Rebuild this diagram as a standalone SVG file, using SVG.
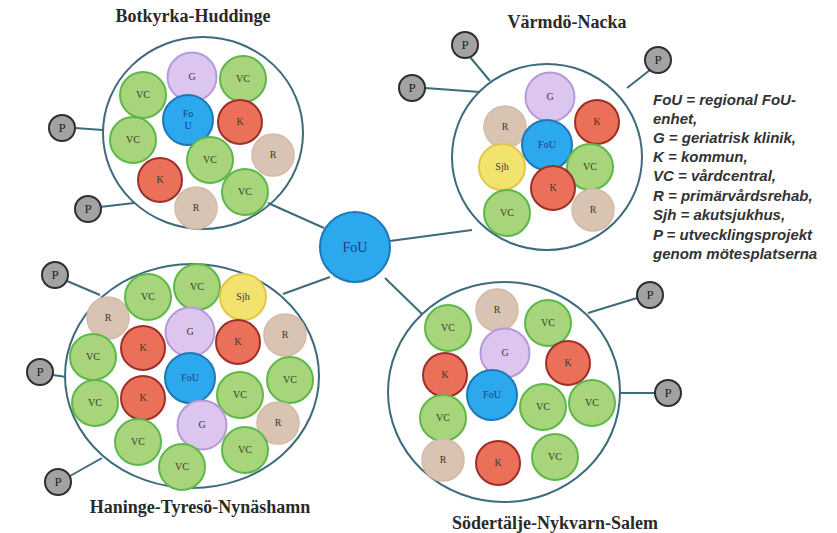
<svg xmlns="http://www.w3.org/2000/svg" width="837" height="533" viewBox="0 0 837 533">
<style>
.bg{fill:#ffffff}
.big{fill:none;stroke:#3d6b7c;stroke-width:2}
.ln{stroke:#3d6b7c;stroke-width:2;fill:none}
.vc{fill:#a8d47c;stroke:#5db84a;stroke-width:2}
.g{fill:#dcc6f0;stroke:#b69bd6;stroke-width:2}
.k{fill:#ea705a;stroke:#9e2f28;stroke-width:2}
.fou{fill:#2ba8ee;stroke:#1f78b6;stroke-width:2}
.r{fill:#d9c3b3;stroke:#d2bba9;stroke-width:1.5}
.sjh{fill:#f1e36e;stroke:#e3c64a;stroke-width:2}
.p{fill:#a2a2a2;stroke:#2e2e2e;stroke-width:2}
.t{font-family:"Liberation Serif","Times New Roman",serif;font-size:10px;fill:#3a3a2a;text-anchor:middle}
.tp{font-family:"Liberation Serif","Times New Roman",serif;font-size:13px;fill:#222;text-anchor:middle}
.tf{font-family:"Liberation Serif","Times New Roman",serif;font-size:10px;fill:#1d3f7a;text-anchor:middle}
.title{font-family:"Liberation Serif","Times New Roman",serif;font-size:18px;font-weight:bold;fill:#2a2a2a;text-anchor:middle}
.leg{font-family:"Liberation Sans",Arial,sans-serif;font-size:15px;font-style:italic;font-weight:bold;fill:#333}
</style>
<rect class="bg" x="0" y="0" width="837" height="533"/>

<g id="connectors">
<line class="ln" x1="268" y1="203" x2="324" y2="228"/>
<line class="ln" x1="390" y1="241" x2="472" y2="230"/>
<line class="ln" x1="283" y1="294" x2="330" y2="277"/>
<line class="ln" x1="385" y1="278" x2="422" y2="314"/>
<line class="ln" x1="75" y1="128" x2="103" y2="130"/>
<line class="ln" x1="100" y1="207" x2="134" y2="203"/>
<line class="ln" x1="470" y1="57" x2="490" y2="81"/>
<line class="ln" x1="425" y1="88" x2="480" y2="92"/>
<line class="ln" x1="650" y1="70" x2="627" y2="88"/>
<line class="ln" x1="67" y1="281" x2="100" y2="295"/>
<line class="ln" x1="53" y1="375" x2="66" y2="377"/>
<line class="ln" x1="70" y1="476" x2="102" y2="458"/>
<line class="ln" x1="588" y1="313" x2="637" y2="298"/>
<line class="ln" x1="620" y1="393" x2="655" y2="393"/>
</g>

<g id="fou-center">
<circle class="fou" cx="355" cy="247" r="35"/>
<text class="tf" x="355" y="252" style="font-size:14px">FoU</text>
</g>

<!-- Botkyrka-Huddinge -->
<g id="cluster-botkyrka">
<text class="title" x="193" y="22">Botkyrka-Huddinge</text>
<ellipse class="big" cx="203" cy="133" rx="100" ry="96"/>
<g id="b-g"><circle class="g" cx="192" cy="77" r="24.5"/><text class="t" x="192" y="80">G</text></g>
<g id="b-vc1"><circle class="vc" cx="243" cy="79" r="23"/><text class="t" x="243" y="82">VC</text></g>
<g id="b-vc2"><circle class="vc" cx="143" cy="95" r="23"/><text class="t" x="143" y="98">VC</text></g>
<g id="b-fou"><circle class="fou" cx="188" cy="120" r="25"/><text class="tf" x="188" y="117">Fo</text><text class="tf" x="188" y="129">U</text></g>
<g id="b-k1"><circle class="k" cx="240" cy="122" r="22"/><text class="t" x="240" y="125">K</text></g>
<g id="b-vc3"><circle class="vc" cx="133" cy="140" r="23"/><text class="t" x="133" y="143">VC</text></g>
<g id="b-r1"><circle class="r" cx="273" cy="155" r="21"/><text class="t" x="273" y="158">R</text></g>
<g id="b-vc4"><circle class="vc" cx="210" cy="160" r="23"/><text class="t" x="210" y="163">VC</text></g>
<g id="b-k2"><circle class="k" cx="160" cy="180" r="22"/><text class="t" x="160" y="183">K</text></g>
<g id="b-vc5"><circle class="vc" cx="245" cy="192" r="23"/><text class="t" x="245" y="195">VC</text></g>
<g id="b-r2"><circle class="r" cx="196" cy="208" r="21"/><text class="t" x="196" y="211">R</text></g>
<g id="b-p1"><circle class="p" cx="62" cy="128" r="13"/><text class="tp" x="62" y="132">P</text></g>
<g id="b-p2"><circle class="p" cx="88" cy="209" r="13"/><text class="tp" x="88" y="213">P</text></g>
</g>

<!-- Värmdö-Nacka -->
<g id="cluster-varmdo">
<text class="title" x="567" y="28">Värmdö-Nacka</text>
<ellipse class="big" cx="547" cy="157" rx="95" ry="93"/>
<g id="v-g"><circle class="g" cx="550" cy="97" r="24.5"/><text class="t" x="550" y="100">G</text></g>
<g id="v-r1"><circle class="r" cx="505" cy="127" r="21"/><text class="t" x="505" y="130">R</text></g>
<g id="v-k1"><circle class="k" cx="597" cy="122" r="22"/><text class="t" x="597" y="125">K</text></g>
<g id="v-fou"><circle class="fou" cx="547" cy="145" r="25"/><text class="tf" x="547" y="148">FoU</text></g>
<g id="v-sjh"><circle class="sjh" cx="502" cy="167" r="23"/><text class="t" x="502" y="170">Sjh</text></g>
<g id="v-vc1"><circle class="vc" cx="590" cy="167" r="23"/><text class="t" x="590" y="170">VC</text></g>
<g id="v-k2"><circle class="k" cx="553" cy="188" r="22"/><text class="t" x="553" y="191">K</text></g>
<g id="v-vc2"><circle class="vc" cx="507" cy="213" r="23"/><text class="t" x="507" y="216">VC</text></g>
<g id="v-r2"><circle class="r" cx="593" cy="210" r="21"/><text class="t" x="593" y="213">R</text></g>
<g id="v-p1"><circle class="p" cx="465" cy="45" r="13"/><text class="tp" x="465" y="49">P</text></g>
<g id="v-p2"><circle class="p" cx="412" cy="88" r="13"/><text class="tp" x="412" y="92">P</text></g>
<g id="v-p3"><circle class="p" cx="658" cy="60" r="13"/><text class="tp" x="658" y="64">P</text></g>
</g>

<!-- Haninge-Tyresö-Nynäshamn -->
<g id="cluster-haninge">
<text class="title" x="200" y="513">Haninge-Tyresö-Nynäshamn</text>
<ellipse class="big" cx="192" cy="376" rx="127" ry="112"/>
<g id="h-r1"><circle class="r" cx="108" cy="318" r="21"/><text class="t" x="108" y="321">R</text></g>
<g id="h-vc1"><circle class="vc" cx="148" cy="297" r="23"/><text class="t" x="148" y="300">VC</text></g>
<g id="h-vc2"><circle class="vc" cx="197" cy="287" r="23"/><text class="t" x="197" y="290">VC</text></g>
<g id="h-sjh"><circle class="sjh" cx="243" cy="297" r="23"/><text class="t" x="243" y="300">Sjh</text></g>
<g id="h-g1"><circle class="g" cx="190" cy="332" r="24.5"/><text class="t" x="190" y="335">G</text></g>
<g id="h-k1"><circle class="k" cx="143" cy="348" r="22"/><text class="t" x="143" y="351">K</text></g>
<g id="h-k2"><circle class="k" cx="238" cy="342" r="22"/><text class="t" x="238" y="345">K</text></g>
<g id="h-r2"><circle class="r" cx="285" cy="335" r="21"/><text class="t" x="285" y="338">R</text></g>
<g id="h-vc3"><circle class="vc" cx="93" cy="357" r="23"/><text class="t" x="93" y="360">VC</text></g>
<g id="h-fou"><circle class="fou" cx="190" cy="378" r="25"/><text class="tf" x="190" y="381">FoU</text></g>
<g id="h-vc4"><circle class="vc" cx="290" cy="380" r="23"/><text class="t" x="290" y="383">VC</text></g>
<g id="h-vc5"><circle class="vc" cx="240" cy="395" r="23"/><text class="t" x="240" y="398">VC</text></g>
<g id="h-vc6"><circle class="vc" cx="95" cy="403" r="23"/><text class="t" x="95" y="406">VC</text></g>
<g id="h-k3"><circle class="k" cx="143" cy="398" r="22"/><text class="t" x="143" y="401">K</text></g>
<g id="h-g2"><circle class="g" cx="202" cy="425" r="24.5"/><text class="t" x="202" y="428">G</text></g>
<g id="h-r3"><circle class="r" cx="278" cy="423" r="21"/><text class="t" x="278" y="426">R</text></g>
<g id="h-vc7"><circle class="vc" cx="138" cy="442" r="23"/><text class="t" x="138" y="445">VC</text></g>
<g id="h-vc8"><circle class="vc" cx="182" cy="467" r="23"/><text class="t" x="182" y="470">VC</text></g>
<g id="h-vc9"><circle class="vc" cx="245" cy="450" r="23"/><text class="t" x="245" y="453">VC</text></g>
<g id="h-p1"><circle class="p" cx="55" cy="275" r="13"/><text class="tp" x="55" y="279">P</text></g>
<g id="h-p2"><circle class="p" cx="40" cy="372" r="13"/><text class="tp" x="40" y="376">P</text></g>
<g id="h-p3"><circle class="p" cx="58" cy="482" r="13"/><text class="tp" x="58" y="486">P</text></g>
</g>

<!-- Södertälje-Nykvarn-Salem -->
<g id="cluster-sodertalje">
<text class="title" x="555" y="529">Södertälje-Nykvarn-Salem</text>
<ellipse class="big" cx="504" cy="392" rx="116" ry="110"/>
<g id="s-r1"><circle class="r" cx="497" cy="310" r="21"/><text class="t" x="497" y="313">R</text></g>
<g id="s-vc1"><circle class="vc" cx="448" cy="328" r="23"/><text class="t" x="448" y="331">VC</text></g>
<g id="s-vc2"><circle class="vc" cx="548" cy="323" r="23"/><text class="t" x="548" y="326">VC</text></g>
<g id="s-g"><circle class="g" cx="505" cy="353" r="24.5"/><text class="t" x="505" y="356">G</text></g>
<g id="s-k1"><circle class="k" cx="445" cy="375" r="22"/><text class="t" x="445" y="378">K</text></g>
<g id="s-k2"><circle class="k" cx="568" cy="363" r="22"/><text class="t" x="568" y="366">K</text></g>
<g id="s-fou"><circle class="fou" cx="492" cy="395" r="25"/><text class="tf" x="492" y="398">FoU</text></g>
<g id="s-vc3"><circle class="vc" cx="543" cy="407" r="23"/><text class="t" x="543" y="410">VC</text></g>
<g id="s-vc4"><circle class="vc" cx="592" cy="403" r="23"/><text class="t" x="592" y="406">VC</text></g>
<g id="s-vc5"><circle class="vc" cx="443" cy="418" r="23"/><text class="t" x="443" y="421">VC</text></g>
<g id="s-r2"><circle class="r" cx="443" cy="460" r="21"/><text class="t" x="443" y="463">R</text></g>
<g id="s-k3"><circle class="k" cx="498" cy="463" r="22"/><text class="t" x="498" y="466">K</text></g>
<g id="s-vc6"><circle class="vc" cx="555" cy="457" r="23"/><text class="t" x="555" y="460">VC</text></g>
<g id="s-p1"><circle class="p" cx="650" cy="295" r="13"/><text class="tp" x="650" y="299">P</text></g>
<g id="s-p2"><circle class="p" cx="668" cy="393" r="13"/><text class="tp" x="668" y="397">P</text></g>
</g>

<g id="legend">
<text class="leg" x="653" y="105">FoU = regional FoU-</text>
<text class="leg" x="653" y="124">enhet,</text>
<text class="leg" x="653" y="143">G = geriatrisk klinik,</text>
<text class="leg" x="653" y="162">K = kommun,</text>
<text class="leg" x="653" y="181">VC = vårdcentral,</text>
<text class="leg" x="653" y="201">R = primärvårdsrehab,</text>
<text class="leg" x="653" y="220">Sjh = akutsjukhus,</text>
<text class="leg" x="653" y="240">P = utvecklingsprojekt</text>
<text class="leg" x="653" y="259">genom mötesplatserna</text>
</g>
</svg>
